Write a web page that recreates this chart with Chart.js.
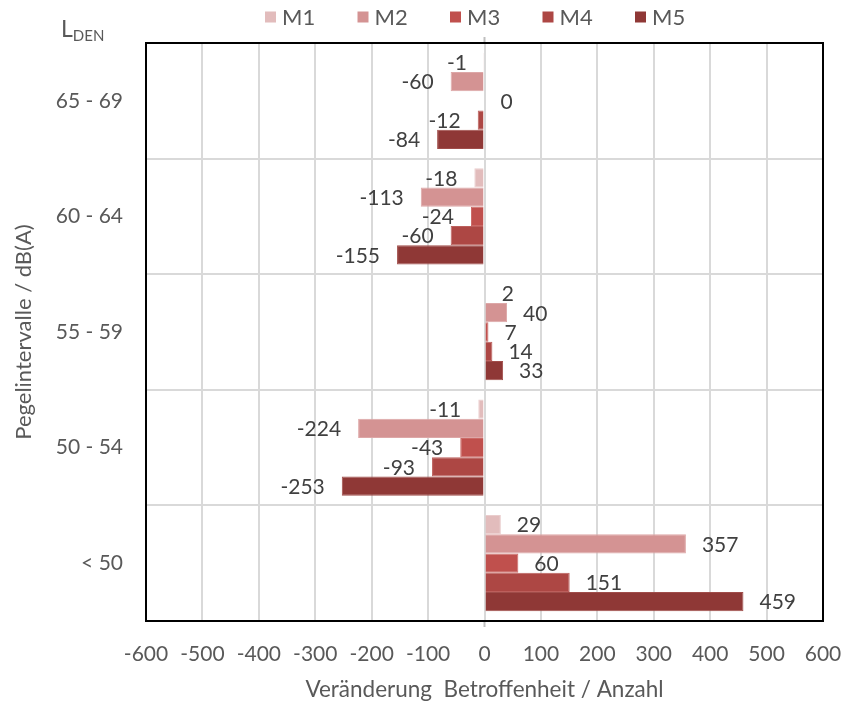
<!DOCTYPE html>
<html>
<head>
<meta charset="utf-8">
<title>Veränderung Betroffenheit nach Pegelintervall</title>
<script src="https://cdn.jsdelivr.net/npm/chart.js@4/dist/chart.umd.min.js"></script>
<style>
  html, body { margin: 0; padding: 0; background: #ffffff; }
  #wrap { width: 843px; height: 712px; }
</style>
</head>
<body>
<div id="wrap"><canvas id="chart" width="843" height="712"></canvas></div>
<script>
// Level intervals (top to bottom) and measures M1..M5
const categories = ['65 - 69', '60 - 64', '55 - 59', '50 - 54', '< 50'];
const seriesNames = ['M1', 'M2', 'M3', 'M4', 'M5'];
const m1 = [-1, -18, 2, -11, 29];
const m2 = [-60, -113, 40, -224, 357];
const m3 = [0, -24, 7, -43, 60];
const m4 = [-12, -60, 14, -93, 151];
const m5 = [-84, -155, 33, -253, 459];
const xTickValues = [-600, -500, -400, -300, -200, -100, 0, 100, 200, 300, 400, 500, 600];

const fills   = ['#E2BCBC', '#D49393', '#C0504D', '#AD4744', '#8F3836'];
const borders = ['#EACDCD', '#DDA7A7', '#CB6966', '#BC5F5C', '#A04D4A'];

const FONT = 'Lato, "Open Sans", sans-serif';
const TEXT = '#595959';
const LABEL = '#404040';
const GRID = '#D9D9D9';

Chart.defaults.font.family = FONT;

const seriesValues = [m1, m2, m3, m4, m5];
const datasets = seriesNames.map((name, i) => ({
  label: name,
  data: seriesValues[i],
  backgroundColor: fills[i],
  borderColor: borders[i],
  borderWidth: 1,
  barPercentage: 1.0,
  categoryPercentage: 0.833
}));

// value labels next to each bar end, plus frame, legend and corner label
const decorations = {
  id: 'decorations',
  afterDatasetsDraw(chart) {
    const ctx = chart.ctx;
    ctx.save();
    ctx.font = '21px ' + FONT;
    ctx.fillStyle = LABEL;
    ctx.textBaseline = 'middle';
    chart.data.datasets.forEach((ds, di) => {
      const meta = chart.getDatasetMeta(di);
      meta.data.forEach((el, idx) => {
        const v = ds.data[idx];
        if (v >= 0) {
          ctx.textAlign = 'left';
          ctx.fillText(String(v), el.x + 16, el.y + 1);
        } else {
          ctx.textAlign = 'right';
          ctx.fillText(String(v), el.x - 17, el.y + 1);
        }
      });
    });
    ctx.restore();
  },
  afterDraw(chart) {
    const ctx = chart.ctx;
    const ca = chart.chartArea;
    const xs = chart.scales.x;
    ctx.save();
    // small ticks of the vertical axis at zero
    const x0 = xs.getPixelForValue(0);
    ctx.strokeStyle = '#BFBFBF';
    ctx.lineWidth = 2;
    ctx.beginPath();
    ctx.moveTo(x0, ca.top - 6); ctx.lineTo(x0, ca.top);
    ctx.moveTo(x0, ca.bottom); ctx.lineTo(x0, ca.bottom + 6);
    ctx.stroke();
    // plot frame
    ctx.strokeStyle = '#000000';
    ctx.lineWidth = 2;
    ctx.strokeRect(ca.left, ca.top, ca.right - ca.left, ca.bottom - ca.top);

    // legend
    ctx.font = '22px ' + FONT;
    ctx.textBaseline = 'middle';
    ctx.textAlign = 'left';
    seriesNames.forEach((name, i) => {
      const bx = 265 + i * 92.5;
      ctx.fillStyle = fills[i];
      ctx.fillRect(bx, 11.5, 11, 11);
      ctx.fillStyle = TEXT;
      ctx.fillText(name, bx + 17, 18);
    });

    // L_DEN corner label
    ctx.fillStyle = TEXT;
    ctx.textBaseline = 'alphabetic';
    ctx.font = '23px ' + FONT;
    ctx.fillText('L', 61, 37);
    const lw = ctx.measureText('L').width;
    ctx.font = '15px ' + FONT;
    ctx.fillText('DEN', 61 + lw, 41);
    ctx.restore();
  }
};

new Chart(document.getElementById('chart'), {
  type: 'bar',
  data: { labels: categories, datasets },
  options: {
    indexAxis: 'y',
    responsive: false,
    animation: false,
    layout: { padding: { top: 43, right: 20, bottom: 0, left: 0 } },
    plugins: {
      legend: { display: false },
      tooltip: { enabled: false }
    },
    scales: {
      x: {
        type: 'linear',
        min: -600,
        max: 600,
        afterBuildTicks(scale) {
          scale.ticks = xTickValues.map(v => ({ value: v }));
        },
        afterFit(scale) {
          scale.height = 91;
          scale.paddingLeft = 0;
          scale.paddingRight = 0;
        },
        ticks: { color: TEXT, font: { size: 21 }, padding: 21 },
        grid: { color: GRID, lineWidth: 2, drawTicks: false },
        border: { display: false },
        title: {
          display: true,
          text: 'Veränderung  Betroffenheit / Anzahl',
          color: TEXT,
          font: { size: 22.5 },
          padding: { top: 4, bottom: 9 }
        }
      },
      y: {
        type: 'category',
        offset: true,
        afterFit(scale) {
          scale.width = 146;
          scale.paddingTop = 0;
          scale.paddingBottom = 0;
        },
        ticks: { color: TEXT, font: { size: 21 }, padding: 23 },
        grid: { color: GRID, lineWidth: 2, drawTicks: false, offset: true },
        border: { display: false },
        title: {
          display: true,
          text: 'Pegelintervalle / dB(A)',
          color: TEXT,
          font: { size: 22 },
          padding: { top: 11, bottom: 4 }
        }
      }
    }
  },
  plugins: [decorations]
});
</script>
</body>
</html>
